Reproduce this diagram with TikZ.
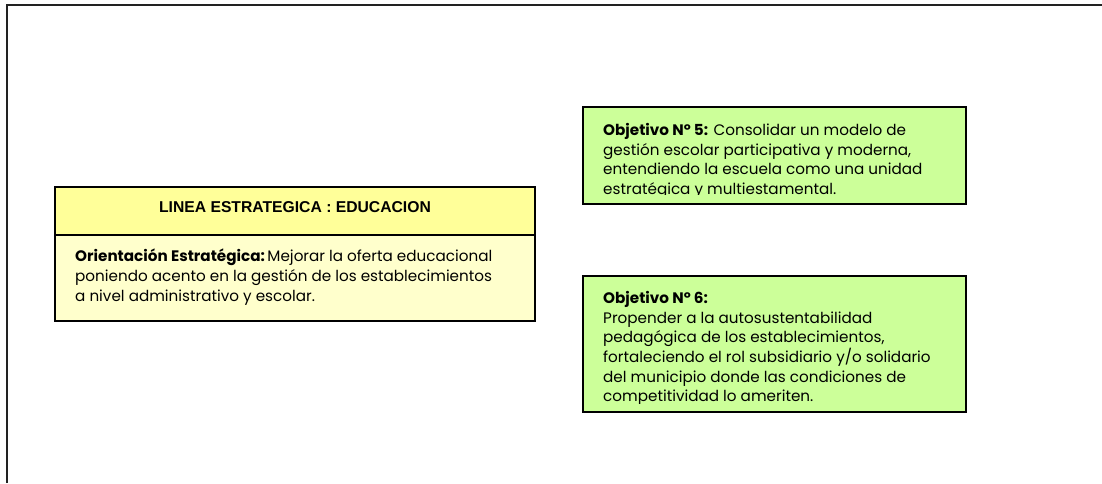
\documentclass[tikz,border=0pt]{standalone}
\usepackage{fontspec}
\setmainfont{Poppins}
\newfontfamily\arialf{Liberation Sans}
\definecolor{titleyellow}{HTML}{FFFF99}
\definecolor{bodyyellow}{HTML}{FFFFCC}
\definecolor{objgreen}{HTML}{CCFF99}
\definecolor{framegray}{HTML}{222222}
\tikzset{
  boxline/.style={draw=black,line width=1.6pt},
  bodytext/.style={anchor=north west,inner sep=0pt,align=left,font=\fontsize{15.2}{19.7}\selectfont},
}
\begin{document}
\begin{tikzpicture}[x=1pt,y=-1pt]
\useasboundingbox (0,0) rectangle (1102,483);
% outer frame (only top and left visible)
\coordinate (ftl) at (7,5);
\coordinate (ftr) at (1102,5);
\coordinate (fbl) at (7,483);
\draw[framegray,line width=2pt] (fbl) -- (ftl) -- (ftr);
% left box
\path[fill=titleyellow] (55,187) rectangle (535,235);
\path[fill=bodyyellow] (55,235) rectangle (535,321);
\draw[boxline] (55,187) rectangle (535,321);
\draw[boxline] (55,235) -- (535,235);
\node[inner sep=0pt,font=\arialf\bfseries\fontsize{15.7}{18}\selectfont] (title) at (295,207) {LINEA ESTRATEGICA : EDUCACION};
\node[bodytext] (orient) at (75,249) {\textbf{Orientación Estratégica:}\,Mejorar la oferta educacional\\poniendo acento en la gestión de los establecimientos\\a nivel administrativo y escolar.};
% objective 5
\path[fill=objgreen] (583,107) rectangle (966,204);
\begin{scope}
\clip (583,107) rectangle (966,194.5);
\node[bodytext] (obj5) at (603,123) {\textbf{Objetivo Nº 5:} Consolidar un modelo de\\gestión escolar participativa y moderna,\\entendiendo la escuela como una unidad\\estratégica y multiestamental.};
\end{scope}
\draw[boxline] (583,107) rectangle (966,204);
% objective 6
\path[fill=objgreen] (583,276) rectangle (966,412);
\begin{scope}
\clip (583,276) rectangle (966,403);
\node[bodytext] (obj6) at (603,291) {\textbf{Objetivo Nº 6:}\\Propender a la autosustentabilidad\\pedagógica de los establecimientos,\\fortaleciendo el rol subsidiario y/o solidario\\del municipio donde las condiciones de\\competitividad lo ameriten.};
\end{scope}
\draw[boxline] (583,276) rectangle (966,412);
\end{tikzpicture}
\end{document}
